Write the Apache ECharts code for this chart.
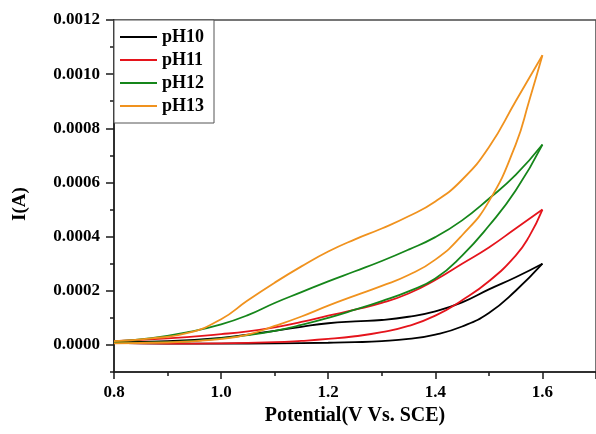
<!DOCTYPE html>
<html><head><meta charset="utf-8">
<script src="https://cdn.jsdelivr.net/npm/echarts@6/dist/echarts.min.js"></script>
<style>html,body{margin:0;padding:0;background:#fff}#c{width:596px;height:434px}</style>
</head><body><div id="c"></div>
<script>
const seriesNames = ['pH10', 'pH11', 'pH12', 'pH13'];
const seriesColors = ['#000000', '#e5141c', '#15861a', '#f0921e'];

// forward (lower) branch and reverse (upper) branch, [potential V, current A]
const pH10Forward = [[0.80,0.000008],[0.90,0.000005],[1.00,0.000005],[1.10,0.000006],[1.20,0.000008],[1.25,0.00001],[1.30,0.000014],[1.35,0.000022],[1.40,0.000038],[1.45,0.000068],[1.50,0.000118],[1.55,0.0002],[1.60,0.0003]];
const pH10Reverse = [[1.60,0.0003],[1.55,0.00025],[1.50,0.000205],[1.45,0.000157],[1.40,0.000124],[1.35,0.000104],[1.30,0.000092],[1.25,0.000087],[1.20,0.00008],[1.15,0.000067],[1.10,0.000052],[1.05,0.000038],[1.00,0.000026],[0.90,0.000014],[0.80,0.00001]];

const pH11Forward = [[0.80,0.000008],[0.90,0.000005],[1.00,0.000006],[1.10,0.00001],[1.15,0.000015],[1.20,0.000022],[1.25,0.000032],[1.30,0.000047],[1.35,0.00007],[1.40,0.000108],[1.45,0.000165],[1.50,0.000235],[1.55,0.00033],[1.575,0.0004],[1.60,0.0005]];
const pH11Reverse = [[1.60,0.0005],[1.55,0.00043],[1.50,0.00036],[1.45,0.0003],[1.40,0.00024],[1.35,0.00019],[1.30,0.000155],[1.25,0.00013],[1.20,0.000108],[1.15,0.000085],[1.10,0.000065],[1.05,0.00005],[1.00,0.00004],[0.90,0.000024],[0.80,0.000014]];

const pH12Forward = [[0.80,0.000008],[0.90,0.00001],[0.95,0.000015],[1.00,0.000024],[1.05,0.000036],[1.10,0.000052],[1.15,0.000074],[1.20,0.0001],[1.25,0.00013],[1.30,0.000162],[1.35,0.000198],[1.40,0.000245],[1.45,0.00033],[1.50,0.00044],[1.55,0.00057],[1.60,0.00074]];
const pH12Reverse = [[1.60,0.00074],[1.55,0.000628],[1.50,0.00054],[1.45,0.00046],[1.40,0.000398],[1.35,0.000352],[1.30,0.00031],[1.25,0.000272],[1.20,0.000235],[1.15,0.000195],[1.10,0.000155],[1.05,0.00011],[1.00,0.000076],[0.94,0.000048],[0.87,0.000025],[0.80,0.000013]];

const pH13Forward = [[0.80,0.000006],[0.90,0.000009],[1.00,0.000022],[1.05,0.000038],[1.10,0.00007],[1.15,0.000105],[1.20,0.000145],[1.25,0.000182],[1.30,0.000218],[1.35,0.000258],[1.40,0.000315],[1.45,0.000405],[1.50,0.00053],[1.55,0.00074],[1.575,0.0009],[1.60,0.00107]];
const pH13Reverse = [[1.60,0.00107],[1.55,0.0009],[1.50,0.00073],[1.45,0.00061],[1.40,0.00053],[1.35,0.000475],[1.30,0.00043],[1.25,0.00039],[1.20,0.000345],[1.15,0.00029],[1.10,0.00023],[1.05,0.000165],[1.00,0.000095],[0.94,0.000045],[0.87,0.000024],[0.80,0.000014]];

const branches = [
  [pH10Forward, pH10Reverse],
  [pH11Forward, pH11Reverse],
  [pH12Forward, pH12Reverse],
  [pH13Forward, pH13Reverse]
];

const yTicks = [0, 0.0002, 0.0004, 0.0006, 0.0008, 0.0010, 0.0012];
const yMinorTicks = [-0.0001, 0.0001, 0.0003, 0.0005, 0.0007, 0.0009, 0.0011];

const FONT = '"Liberation Serif", "Times New Roman", serif';
const AXIS_COLOR = '#1a1a1a';

const series = [];
branches.forEach((pair, i) => {
  pair.forEach(data => {
    series.push({
      name: seriesNames[i],
      type: 'line',
      data: data,
      smooth: 0.5,
      symbol: 'none',
      color: seriesColors[i],
      lineStyle: { width: 1.8, color: seriesColors[i] },
      xAxisIndex: 0,
      yAxisIndex: 0,
      z: 2 + i
    });
  });
});

const chart = echarts.init(document.getElementById('c'), null, { renderer: 'canvas' });
chart.setOption({
  animation: false,
  backgroundColor: '#ffffff',
  grid: {
    left: 114, top: 20, right: -2, bottom: 62,
    show: true, borderColor: '#4a4a4a', borderWidth: 1.5, backgroundColor: 'transparent'
  },
  legend: {
    data: seriesNames,
    orient: 'vertical',
    left: 114, top: 20,
    padding: [8, 10, 8, 6],
    icon: 'rect',
    itemWidth: 37, itemHeight: 2, itemGap: 5,
    backgroundColor: '#ffffff',
    borderColor: '#555555', borderWidth: 1,
    textStyle: { fontFamily: FONT, fontWeight: 'bold', fontSize: 18, lineHeight: 18, color: '#000' },
    z: 10
  },
  xAxis: [{
    type: 'value',
    min: 0.8, max: 1.7, interval: 0.2,
    name: 'Potential(V Vs. SCE)',
    nameLocation: 'middle', nameGap: 33,
    nameTextStyle: { fontFamily: FONT, fontWeight: 'bold', fontSize: 20, color: '#000' },
    axisLine: { show: true, onZero: false, lineStyle: { color: AXIS_COLOR, width: 1.5 } },
    axisTick: { show: true, length: 7, lineStyle: { color: AXIS_COLOR, width: 1.5 } },
    minorTick: { show: true, splitNumber: 2, length: 4, lineStyle: { color: AXIS_COLOR, width: 1.5 } },
    axisLabel: {
      margin: 12, showMaxLabel: false,
      fontFamily: FONT, fontWeight: 'bold', fontSize: 17, color: '#000',
      formatter: v => v.toFixed(1)
    },
    splitLine: { show: false }
  }],
  yAxis: [{
    type: 'value',
    min: -0.0001, max: 0.0012,
    name: 'I(A)',
    nameLocation: 'middle', nameGap: 84,
    nameTextStyle: { fontFamily: FONT, fontWeight: 'bold', fontSize: 19, color: '#000', padding: [0, 16, 0, 0] },
    axisLine: { show: true, onZero: false, lineStyle: { color: AXIS_COLOR, width: 1.5 } },
    axisTick: { show: true, length: 8, customValues: yTicks, lineStyle: { color: AXIS_COLOR, width: 1.5 } },
    axisLabel: {
      margin: 14, customValues: yTicks,
      fontFamily: FONT, fontWeight: 'bold', fontSize: 17, color: '#000',
      formatter: v => v.toFixed(4)
    },
    splitLine: { show: false }
  }, {
    type: 'value',
    position: 'left',
    min: -0.0001, max: 0.0012,
    axisLine: { show: false },
    axisTick: { show: true, length: 4, customValues: yMinorTicks, lineStyle: { color: AXIS_COLOR, width: 1.5 } },
    axisLabel: { show: false },
    splitLine: { show: false }
  }],
  series: series
});
</script>
</body></html>
